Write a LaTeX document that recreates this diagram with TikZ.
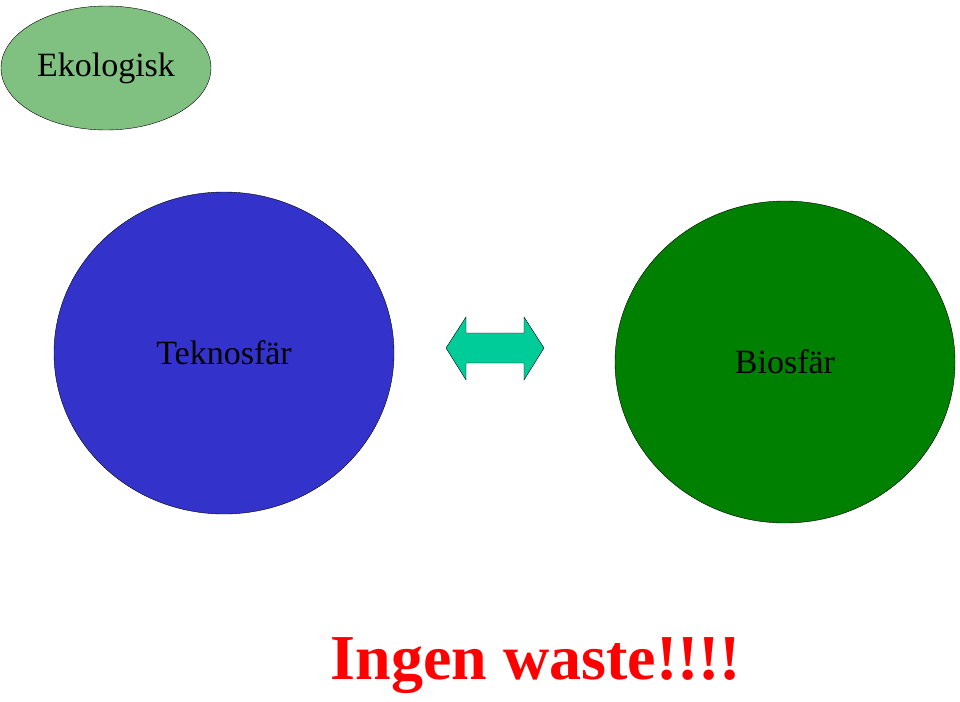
\documentclass[tikz,border=0pt]{standalone}
\usepackage{fontspec}
\setmainfont{Liberation Serif}
\definecolor{ekogreen}{HTML}{80C080}
\definecolor{teknoblue}{HTML}{3333CC}
\definecolor{biogreen}{HTML}{008000}
\definecolor{arrowgreen}{HTML}{00CC99}
\tikzset{sphere/.style={draw=black, ellipse, inner sep=0pt}}
\usetikzlibrary{shapes.geometric}
\begin{document}
\begin{tikzpicture}[x=1pt,y=-1pt]

	\useasboundingbox (0,0) rectangle (960,701);

	\node[sphere, fill=ekogreen, minimum width=210, minimum height=124] (eko) at (106,68) {};
	\node[font=\fontsize{34}{40}\selectfont] at (eko) {Ekologisk};

	\node[sphere, fill=teknoblue, minimum width=340, minimum height=322] (tekno) at (224,353) {};
	\node[font=\fontsize{34}{40}\selectfont] at (tekno) {Teknosfär};

	\node[sphere, fill=biogreen, minimum width=340, minimum height=322] (bio) at (785,362) {};
	\node[font=\fontsize{34}{40}\selectfont] at (bio) {Biosfär};

	\draw[fill=arrowgreen] (446,348)--(466,317)--(466,333)--(524,333)--(524,317)--(544,348)
		--(524,380)--(524,363)--(466,363)--(466,380)--cycle;

	\node[text=red, font=\fontsize{64}{70}\selectfont\bfseries] (waste) at (536,666) {Ingen waste!!!!};

\end{tikzpicture}
\end{document}
